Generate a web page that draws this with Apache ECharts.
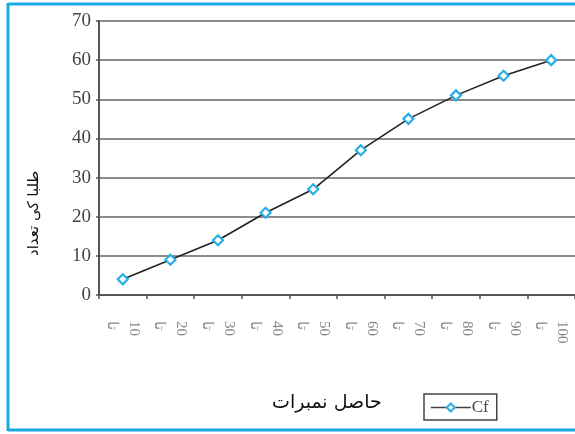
<!DOCTYPE html>
<html>
<head>
<meta charset="utf-8">
<script src="https://cdn.jsdelivr.net/npm/echarts@6/dist/echarts.min.js"></script>
<style>
  html, body { margin: 0; padding: 0; background: #fff; }
  #chart { width: 575px; height: 434px; }
</style>
</head>
<body>
<div id="chart"></div>
<script>
// Upper class limits of the mark intervals
const classUpper = ['10', '20', '30', '40', '50', '60', '70', '80', '90', '100'];
// Cumulative frequency of students
const cumulative = [4, 9, 14, 21, 27, 37, 45, 51, 56, 60];
// Value axis ticks
const yMin = 0, yMax = 70, yStep = 10;

const seriesName = 'Cf';
const xTitle = 'حاصل نمبرات';
const yTitle = 'طلبا کی تعداد';

const chart = echarts.init(document.getElementById('chart'), null, { renderer: 'canvas' });

const serif = '"Liberation Serif", "DejaVu Serif", serif';
const urdu = '"DejaVu Sans", "Noto Sans", sans-serif';

chart.setOption({
  backgroundColor: '#ffffff',
  animation: false,
  grid: { left: 99, right: -2, top: 21, bottom: 139, containLabel: false },
  xAxis: {
    type: 'category',
    data: classUpper,
    boundaryGap: true,
    axisLine: { show: true, lineStyle: { color: '#555', width: 2 } },
    axisTick: { show: true, alignWithLabel: false, length: 4, lineStyle: { color: '#555', width: 1.5 } },
    axisLabel: {
      interval: 0,
      rotate: -90,
      margin: 26,
      color: '#888',
      fontFamily: serif,
      fontSize: 15,
      lineHeight: 22,
      formatter: v => v + '\nتا'
    },
    splitLine: { show: false }
  },
  yAxis: {
    type: 'value',
    min: yMin,
    max: yMax,
    interval: yStep,
    axisLine: { show: true, lineStyle: { color: '#555', width: 2 } },
    axisTick: { show: true, length: 3, lineStyle: { color: '#555', width: 1.5 } },
    axisLabel: { color: '#444', fontFamily: serif, fontSize: 19, margin: 8 },
    splitLine: { show: true, lineStyle: { color: '#666', width: 1.7 } }
  },
  legend: {
    data: [seriesName],
    left: 424,
    top: 394,
    padding: [5, 8, 4, 6],
    borderColor: '#444',
    borderWidth: 1.5,
    borderRadius: 0,
    itemWidth: 40,
    itemHeight: 10,
    itemGap: 2,
    itemStyle: { color: '#ffffff', borderColor: '#2aaee6', borderWidth: 2 },
    lineStyle: { color: '#444', width: 1.5 },
    textStyle: { color: '#444', fontFamily: serif, fontSize: 17, padding: [0, 0, 0, -4] }
  },
  series: [{
    name: seriesName,
    type: 'line',
    data: cumulative,
    symbol: 'diamond',
    symbolSize: 10,
    showSymbol: true,
    lineStyle: { color: '#222', width: 1.6 },
    itemStyle: { color: '#ffffff', borderColor: '#2aaee6', borderWidth: 2.2 },
    z: 3
  }],
  graphic: [
    // frame around the figure
    { type: 'line', shape: { x1: 8, y1: 4, x2: 575, y2: 4 }, style: { stroke: '#19a9e3', lineWidth: 3 } },
    { type: 'line', shape: { x1: 8, y1: 3, x2: 8, y2: 431 }, style: { stroke: '#19a9e3', lineWidth: 3 } },
    { type: 'line', shape: { x1: 8, y1: 430, x2: 575, y2: 430 }, style: { stroke: '#19a9e3', lineWidth: 3 } },
    // axis titles
    {
      type: 'text', left: 272, top: 394,
      style: { text: xTitle, fill: '#111', font: '19px ' + urdu }
    },
    {
      type: 'text', x: 27, y: 256, rotation: Math.PI / 2,
      style: { text: yTitle, fill: '#111', font: '15px ' + urdu }
    }
  ]
});
</script>
</body>
</html>
